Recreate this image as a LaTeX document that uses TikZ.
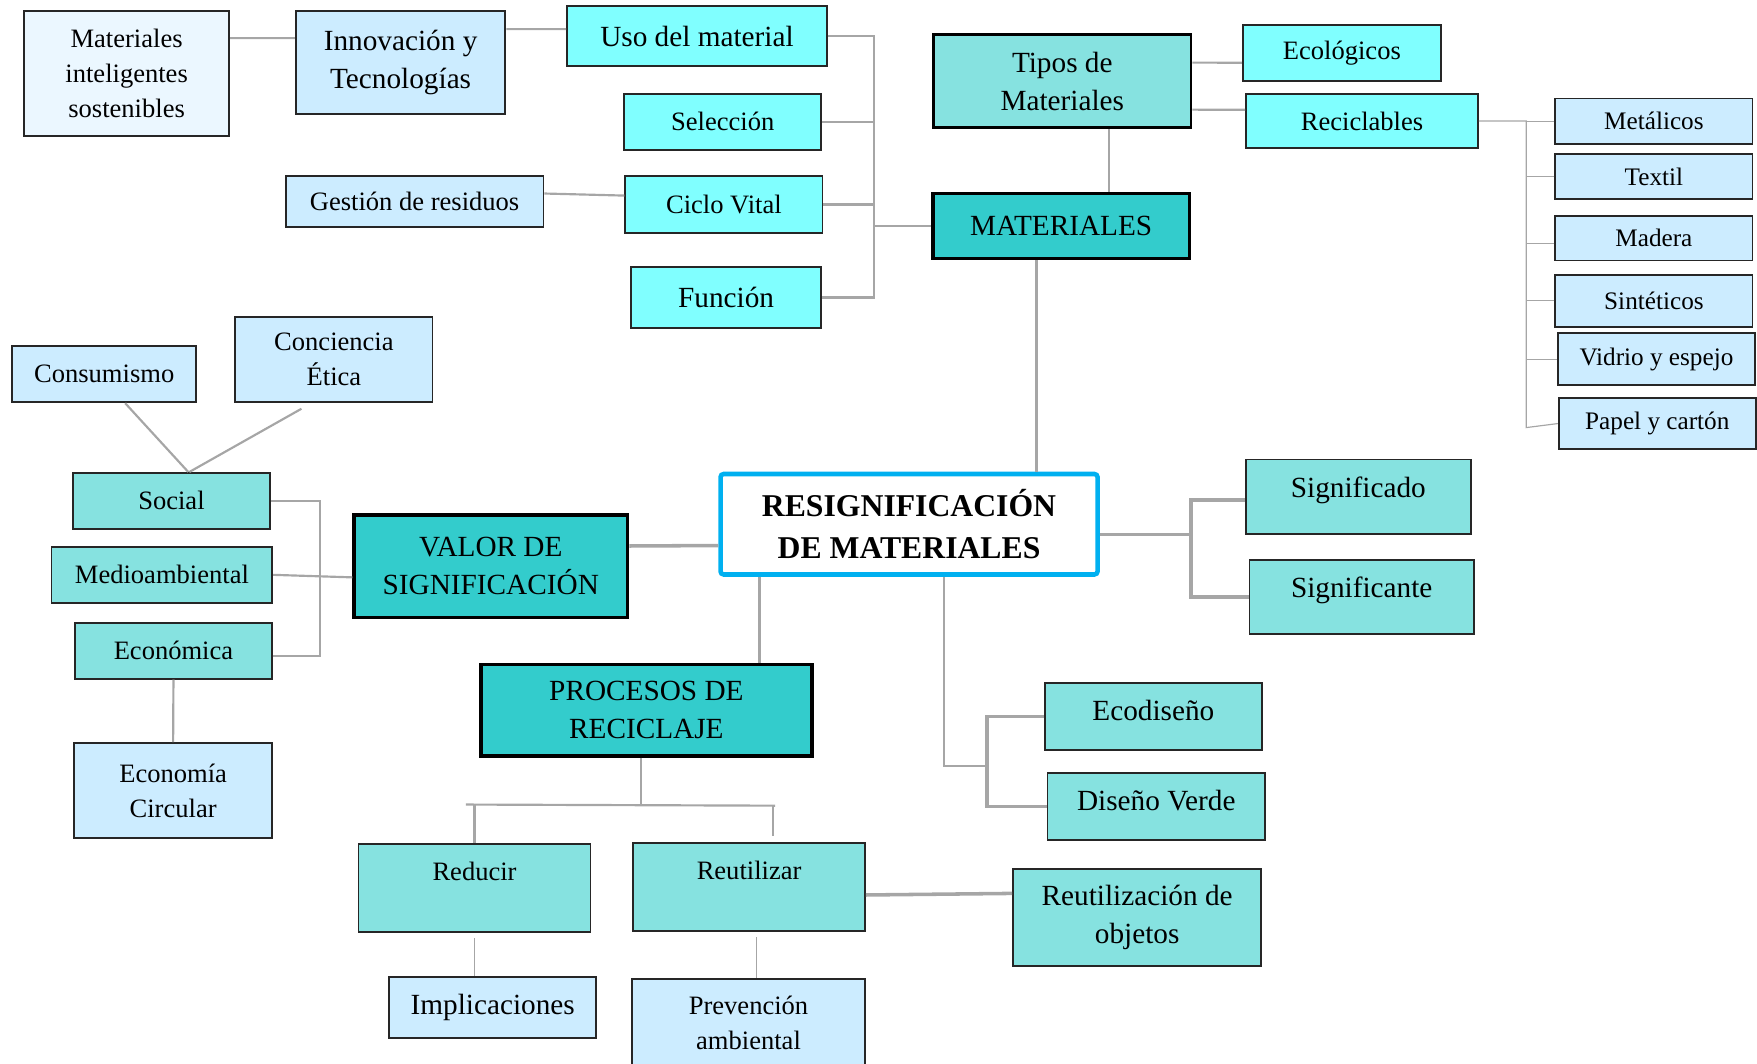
\documentclass[tikz,border=0pt]{standalone}
\usepackage{fontspec}
\setmainfont{Liberation Serif}

\definecolor{paleblue}{HTML}{EBF7FF}
\definecolor{lightblue}{HTML}{CCECFF}
\definecolor{aqua}{HTML}{80FFFF}
\definecolor{softteal}{HTML}{86E2E0}
\definecolor{deepteal}{HTML}{33CCCC}
\definecolor{frameblue}{HTML}{00B0F0}
\definecolor{linkgray}{HTML}{A6A6A6}

\newcommand{\fsmall}{\fontsize{6.74}{8.96}\selectfont}
\newcommand{\flarge}{\fontsize{7.43}{9.67}\selectfont}
\newcommand{\ftiny}{\fontsize{6.4}{8}\selectfont}
\newcommand{\ftitle}{\fontsize{8.05}{10.8}\selectfont\bfseries}

\begin{document}
\begin{tikzpicture}[
    box/.style={draw=black!85, line width=0.45pt, inner sep=0pt, align=center, font=\fsmall},
    smallbox/.style={box, fill=lightblue, font=\ftiny, minimum width=1.76cm},
    mainbox/.style={box, draw=black, line width=0.9pt, fill=deepteal, font=\flarge},
    uptext/.style={text height=0.17cm, text depth=#1},
    link/.style={draw=linkgray, line width=0.55pt},
    thinlink/.style={draw=linkgray, line width=0.3pt},
    thicklink/.style={draw=linkgray, line width=0.9pt}
]
    % Page
    \useasboundingbox (0,0) rectangle (15.68,9.49);

    % Innovation and life cycle
    \node[box, fill=paleblue, minimum width=1.83cm, minimum height=1.116cm] (matint) at (1.13,8.834) {Materiales\\inteligentes\\sostenibles};
    \node[box, fill=lightblue, font=\flarge, minimum width=1.87cm, minimum height=0.919cm] (innov) at (3.575,8.9325) {Innovación y\\Tecnologías};
    \node[box, fill=aqua, font=\flarge, minimum width=2.32cm, minimum height=0.536cm] (uso) at (6.22,9.168) {Uso del material};
    \node[box, fill=aqua, minimum width=1.76cm, minimum height=0.50cm] (selec) at (6.45,8.404) {Selección};
    \node[box, fill=lightblue, minimum width=2.30cm, minimum height=0.458cm] (gestion) at (3.70,7.693) {Gestión de residuos};
    \node[box, fill=aqua, minimum width=1.76cm, minimum height=0.503cm] (ciclo) at (6.46,7.6645) {Ciclo Vital};
    \node[box, fill=aqua, font=\flarge, minimum width=1.70cm, minimum height=0.538cm] (funcion) at (6.48,6.835) {Función};

    % Materials and their types
    \node[box, draw=black, line width=0.65pt, fill=softteal, font=\flarge, minimum width=2.30cm, minimum height=0.83cm] (tipos) at (9.48,8.765) {Tipos de\\Materiales};
    \node[mainbox, minimum width=2.29cm, minimum height=0.58cm] (materiales) at (9.47,7.475) {MATERIALES};
    \node[box, fill=aqua, minimum width=1.77cm, minimum height=0.506cm] (ecolog) at (11.975,9.017) {Ecológicos};
    \node[box, fill=aqua, minimum width=2.07cm, minimum height=0.48cm] (recicl) at (12.155,8.41) {Reciclables};

    % Recyclable materials
    \node[smallbox, minimum height=0.405cm] (metal) at (14.76,8.4075) {Metálicos};
    \node[smallbox, minimum height=0.40cm] (textil) at (14.76,7.9145) {Textil};
    \node[smallbox, minimum height=0.40cm] (madera) at (14.76,7.3645) {Madera};
    \node[smallbox, minimum height=0.462cm] (sintet) at (14.76,6.805) {Sintéticos};
    \node[smallbox, minimum width=1.755cm, minimum height=0.461cm] (vidrio) at (14.7825,6.2845) {Vidrio y espejo};
    \node[smallbox, minimum height=0.46cm] (papel) at (14.79,5.71) {Papel y cartón};

    % Value of signification
    \node[box, fill=lightblue, minimum width=1.644cm, minimum height=0.502cm] (consum) at (0.93,6.151) {Consumismo};
    \node[box, fill=lightblue, minimum width=1.76cm, minimum height=0.76cm] (concien) at (2.98,6.28) {Conciencia\\Ética};
    \node[box, fill=softteal, minimum width=1.76cm, minimum height=0.50cm] (social) at (1.53,5.02) {Social};
    \node[box, fill=softteal, minimum width=1.97cm, minimum height=0.50cm] (medio) at (1.445,4.36) {Medioambiental};
    \node[box, fill=softteal, minimum width=1.764cm, minimum height=0.50cm] (econom) at (1.548,3.683) {Económica};
    \node[box, fill=lightblue, minimum width=1.77cm, minimum height=0.85cm] (ecocirc) at (1.545,2.435) {Economía\\Circular};
    \node[mainbox, minimum width=2.44cm, minimum height=0.915cm] (valor) at (4.38,4.4375) {VALOR DE\\SIGNIFICACIÓN};

    % Central node
    \node[box, draw=frameblue, line width=1.15pt, rounded corners=0.8pt, fill=white, font=\ftitle, minimum width=3.365cm, minimum height=0.897cm] (resig) at (8.1125,4.8115) {RESIGNIFICACIÓN\\DE MATERIALES};

    % Signified and signifier
    \node[box, fill=softteal, font=\flarge, uptext=0.16cm, minimum width=2.004cm, minimum height=0.668cm] (signdo) at (12.122,5.056) {Significado};
    \node[box, fill=softteal, font=\flarge, uptext=0.16cm, minimum width=2.005cm, minimum height=0.662cm] (signte) at (12.1525,4.161) {Significante};

    % Design
    \node[box, fill=softteal, font=\flarge, uptext=0.10cm, minimum width=1.934cm, minimum height=0.601cm] (ecodis) at (10.293,3.0975) {Ecodiseño};
    \node[box, fill=softteal, font=\flarge, uptext=0.10cm, minimum width=1.942cm, minimum height=0.602cm] (disverde) at (10.319,2.294) {Diseño Verde};

    % Recycling processes
    \node[mainbox, minimum width=2.953cm, minimum height=0.818cm] (procesos) at (5.7685,3.152) {PROCESOS DE\\RECICLAJE};
    \node[box, fill=softteal, uptext=0.30cm, minimum width=2.07cm, minimum height=0.785cm] (reducir) at (4.235,1.5675) {Reducir};
    \node[box, fill=softteal, uptext=0.30cm, minimum width=2.07cm, minimum height=0.782cm] (reutil) at (6.685,1.573) {Reutilizar};
    \node[box, fill=lightblue, font=\flarge, minimum width=1.846cm, minimum height=0.544cm] (implic) at (4.397,0.502) {Implicaciones};
    \node[box, fill=lightblue, minimum width=2.08cm, minimum height=0.786cm] (prevenc) at (6.68,0.36) {Prevención\\ambiental};
    \node[box, fill=softteal, font=\flarge, minimum width=2.216cm, minimum height=0.86cm] (reutobj) at (10.148,1.302) {Reutilización de\\objetos};

    % Trunks of the brackets
    \coordinate (trunkL) at (7.797,7.45);
    \coordinate (trunkR) at (13.62,8.40);
    \coordinate (trunkV) at (2.854,4.40);
    \coordinate (trunkS) at (10.627,4.60);
    \coordinate (trunkE) at (8.809,2.654);
    \coordinate (procL) at (4.157,2.31);
    \coordinate (procR) at (6.917,2.30);

    % Links: innovation and life cycle
    \draw[link] ([yshift=-0.25cm]matint.north east) -- ([yshift=-0.25cm]innov.north west);
    \draw[link] ([yshift=-0.17cm]innov.north east) -- ([yshift=-0.214cm]uso.north west);
    \draw[link] ([yshift=0.07cm]gestion.east) -- ([yshift=0.08cm]ciclo.west);
    \draw[link] (uso.east) -| (funcion.east -| trunkL) -- (funcion.east);
    \draw[link] (selec.east) -- (selec.east -| trunkL);
    \draw[link] (ciclo.east) -- (ciclo.east -| trunkL);
    \draw[link] (materiales.west) -- (materiales.west -| trunkL);

    % Links: types of materials
    \draw[link] ([yshift=-0.26cm]tipos.north east) -- ([yshift=-0.087cm]ecolog.west);
    \draw[link] ([yshift=-0.68cm]tipos.north east) -- ([yshift=0.10cm]recicl.west);
    \draw[link] ([xshift=0.42cm]tipos.south) -- ([xshift=0.43cm]materiales.north);

    % Links: recyclable materials
    \draw[thinlink] (recicl.east) -- (recicl.east -| trunkR) -- ([yshift=-2.726cm]trunkR) -- (papel.west);
    \draw[thinlink] (metal.west) -- (metal.west -| trunkR);
    \draw[thinlink] (textil.west) -- (textil.west -| trunkR);
    \draw[thinlink] ([yshift=-0.05cm]madera.west) -- ([yshift=-0.05cm]madera.west -| trunkR);
    \draw[thinlink] (sintet.west) -- (sintet.west -| trunkR);
    \draw[thinlink] (vidrio.west) -- (vidrio.west -| trunkR);

    % Links: central node
    \coordinate (m1) at ([xshift=-0.22cm]materiales.south);
    \draw[link] (m1) -- (m1 |- resig.north);
    \draw[thicklink] ([yshift=0.18cm]valor.east) -- ([yshift=-0.19cm]resig.west);
    \coordinate (r1) at ([xshift=-1.333cm]resig.south);
    \draw[thicklink] (r1) -- (r1 |- procesos.north);
    \coordinate (s1) at ([yshift=-0.09cm]resig.east);
    \draw[thicklink] (s1) -- (s1 -| trunkS);
    \draw[thicklink] ([yshift=-0.03cm]signdo.west) -| (signte.west -| trunkS) -- (signte.west);
    \coordinate (r2) at ([xshift=0.3125cm]resig.south);
    \draw[link] (r2) |- (trunkE);
    \draw[thicklink] (ecodis.west) -| (disverde.west -| trunkE) -- (disverde.west);

    % Links: value of signification
    \draw[link] ([xshift=0.187cm]consum.south) -- ([xshift=0.15cm]social.north);
    \draw[link] ([xshift=-0.29cm,yshift=-0.05cm]concien.south) -- ([xshift=0.16cm]social.north);
    \coordinate (e1) at ([yshift=-0.05cm]econom.east);
    \draw[link] (social.east) -| (e1 -| trunkV) -- (e1);
    \draw[link] (medio.east) -- ([yshift=-0.10cm]valor.west);
    \draw[link] (econom.south) -- (ecocirc.north);

    % Links: recycling processes
    \coordinate (p1) at ([xshift=-0.047cm]procesos.south);
    \draw[link] (p1) -- (p1 |- procL);
    \draw[link] (procL) -- (procR);
    \draw[link] (reducir.north) -- (reducir.north |- procL);
    \coordinate (r3) at ([xshift=0.215cm,yshift=0.06cm]reutil.north);
    \draw[link] (r3) -- (r3 |- procR);
    \draw[thinlink] ([yshift=-0.05cm]reducir.south) -- (reducir.south |- implic.north);
    \draw[thinlink] ([xshift=0.067cm,yshift=-0.05cm]reutil.south) -- ([xshift=0.067cm]reutil.south |- prevenc.north);
    \draw[thicklink] ([yshift=-0.07cm]reutil.east) -- ([yshift=0.215cm]reutobj.west);
\end{tikzpicture}
\end{document}
